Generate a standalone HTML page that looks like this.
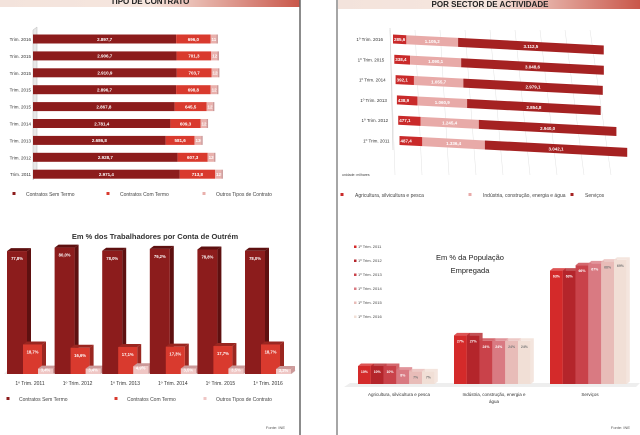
<!DOCTYPE html>
<html><head><meta charset="utf-8"><style>
body{margin:0;background:#fff;width:640px;height:435px;overflow:hidden;font-family:"Liberation Sans",sans-serif}
svg{display:block}
</style></head><body>
<svg id="s" width="640" height="435" xmlns="http://www.w3.org/2000/svg" font-family="Liberation Sans, sans-serif">
<defs>
<linearGradient id="hdr" x1="0" x2="1"><stop offset="0" stop-color="#f3e3dc"/><stop offset="0.5" stop-color="#f6e6de"/><stop offset="1" stop-color="#c9574a"/></linearGradient>
</defs>
<rect x="0" y="0" width="300" height="7" fill="url(#hdr)"/>
<text x="150" y="4" font-size="8" font-weight="bold" text-anchor="middle" fill="#222">TIPO DE CONTRATO</text>
<rect x="338" y="0" width="302" height="9" fill="url(#hdr)"/>
<text x="490" y="7" font-size="8" font-weight="bold" text-anchor="middle" fill="#222">POR SECTOR DE ACTIVIDADE</text>
<line x1="300" y1="0" x2="300" y2="435" stroke="#666" stroke-width="1.5"/>
<line x1="337" y1="0" x2="337" y2="435" stroke="#888" stroke-width="1.5"/>
<g id="g1"></g><g id="g2"></g><g id="g3"></g><g id="g4"></g>
<text x="285" y="429" font-size="4" text-anchor="end" fill="#555">Fonte: INE</text>
<text x="630" y="429" font-size="4" text-anchor="end" fill="#555">Fonte: INE</text>
</svg>
<script>
const NS="http://www.w3.org/2000/svg";
function mk(p,t,a,txt){const e=document.createElementNS(NS,t);for(const k in a)e.setAttribute(k,a[k]);if(txt!==undefined)e.textContent=txt;p.appendChild(e);return e;}
function fmt(v){return v.toFixed(1).replace('.',',').replace(/^(\d)(\d{3})/,'$1.$2');}

// Chart 1: contract types (stacked horizontal)
const c1Cats=["Trim. 2016","Trim. 2015","Trim. 2015","Trim. 2015","Trim. 2015","Trim. 2014","Trim. 2013","Trim. 2012","Trim. 2011"];
const c1Sem=[2897.7,2906.7,2910.9,2896.7,2867.8,2781.4,2686.8,2928.7,2971.4];
const c1Com=[696.0,701.3,703.7,698.8,645.5,609.3,581.6,607.3,713.8];
const c1Out=[119.1,126.5,128.5,127.5,127.5,122.7,136.2,126.1,129.1];
const c1Legend=["Contratos  Sem Termo","Contratos  Com Termo","Outros Tipos de Contrato"];
// Chart 2: sectors
const c2Cats=["1º Trim. 2016","1º Trim. 2015","1º Trim. 2014","1º Trim. 2013","1º Trim. 2012","1º Trim. 2011"];
const c2Agr=[285.6,338.4,392.1,438.9,477.1,487.4];
const c2Ind=[1105.2,1090.1,1055.7,1060.9,1245.4,1336.4];
const c2Ser=[3112.5,3048.6,2979.1,2854.8,2940.0,3042.1];
const c2Legend=["Agricultura, silvicultura e pesca","Indústria, construção, energia e água","Serviços"];
// Chart 3: % contracts
const c3Cats=["1º Trim. 2011","1º Trim. 2012","1º Trim. 2013","1º Trim. 2014","1º Trim. 2015","1º Trim. 2016"];
const c3Sem=[77.8,80.0,78.0,79.2,78.8,78.0];
const c3Com=[18.7,16.6,17.1,17.3,17.7,18.7];
const c3Out=[3.4,3.4,4.9,3.5,3.5,3.2];
// Chart 4: % employed population
const c4Cats=["Agricultura, silvicultura e pesca","Indústria, construção, energia e água","Serviços"];
const c4Series=["1º Trim. 2011","1º Trim. 2012","1º Trim. 2013","1º Trim. 2014","1º Trim. 2015","1º Trim. 2016"];
const c4Vals=[[10,27,63],[10,27,63],[10,24,66],[8,24,67],[7,24,68],[7,24,69]];

// ---- chart 1
(function(){
const g=document.getElementById('g1');
const x0=33, sx=v=>x0+v*0.0494, y0=39, dy=16.9, h=9;
mk(g,'path',{d:'M33 30 L37 27 L37 176 L33 180 Z',fill:'#e8e8e8',stroke:'#bbb','stroke-width':0.5});
const cols=['#8c1c1c','#d93a2e','#e9b0ac'];
c1Cats.forEach((c,i)=>{
 const y=y0+i*dy;
 let t=mk(g,'text',{x:31,y:y+2,'font-size':4.5,'text-anchor':'end',fill:'#333'},c);
 
 const vals=[c1Sem[i],c1Com[i],c1Out[i]];let acc=0;
 vals.forEach((v,k)=>{
  const a=sx(acc),b=sx(acc+v);acc+=v;
  const r=mk(g,'rect',{x:a,y:y-h/2,width:b-a,height:h,fill:cols[k]});
  
  const lt=mk(g,'text',{x:k==2?a+1:(a+b)/2,y:y+1.8,'font-size':4.5,'font-weight':'bold','text-anchor':k==2?'start':'middle',fill:'#fff'},fmt(v));
  
 });
 mk(g,'rect',{x:sx(acc),y:y-h/2,width:1.5,height:h,fill:'#c99'});
});
[14,108,204].forEach((x,k)=>{
 const m=mk(g,'rect',{x:x-1.5,y:192,width:3,height:3,fill:cols[k]});
 
 const t=mk(g,'text',{x:x+12,y:196,'font-size':5,fill:'#444'},c1Legend[k]);
 
});
})();

// ---- chart 2
(function(){
const g=document.getElementById('g2');
const x0=393, sx=v=>v*0.0468, y0=39, dy=20.3, h=9, slope=0.052;
for(let i=0;i<9;i++){mk(g,'line',{x1:390+i*25,y1:30,x2:395+i*27,y2:175,stroke:'#e2e2e2','stroke-width':0.5});}
mk(g,'path',{d:'M390 28 L393 150',stroke:'#ccc','stroke-width':0.6,fill:'none'});
const cols=['#c92a2a','#e8aaa8','#a52222'];
c2Cats.forEach((c,i)=>{
 const y=y0+i*dy, xs=x0+i*1.3;
 const t=mk(g,'text',{x:xs-10,y:y+2,'font-size':4.5,'text-anchor':'end',fill:'#333'},c);
 
 const vals=[c2Agr[i],c2Ind[i],c2Ser[i]];let acc=0;
 vals.forEach((v,k)=>{
  const a=xs+sx(acc),b=xs+sx(acc+v);acc+=v;
  const ya=y+(a-xs)*slope, yb=y+(b-xs)*slope;
  const p=mk(g,'path',{d:`M${a} ${ya-h/2} L${b} ${yb-h/2} L${b} ${yb+h/2} L${a} ${ya+h/2} Z`,fill:cols[k]});
  
  const mx=k==0?a+1:(a+b)/2, my=y+(mx-xs)*slope;
  const lt=mk(g,'text',{x:mx,y:my+1.8,'font-size':4.5,'font-weight':'bold','text-anchor':k==0?'start':'middle',fill:'#fff'},fmt(v));
  
 });
});
mk(g,'text',{x:342,y:176,'font-size':3.5,fill:'#444'},'unidade: milhares');
[342,470,572].forEach((x,k)=>{
 const m=mk(g,'rect',{x:x-1.5,y:193,width:3,height:3,fill:cols[k]});
 
 const t=mk(g,'text',{x:x+13,y:197,'font-size':5,fill:'#444'},c2Legend[k]);
 
});
})();

// ---- chart 3
(function(){
const g=document.getElementById('g3');
const base=374, sy=v=>v*1.58;
const t0=mk(g,'text',{x:155,y:239,'font-size':7.5,'font-weight':'bold','text-anchor':'middle',fill:'#333'},'Em % dos Trabalhadores por Conta de Outrém');

mk(g,'path',{d:'M4 374 L292 374 L296 370 L8 370 Z',fill:'#eee'});
const cols=['#8c1c1c','#d93a2e','#efc6c4'],side=['#5e1010','#9a2620','#c99'];
const ws=[20,19,15],off=[0,16,31];
c3Cats.forEach((c,i)=>{
 const gx=7+i*47.6;
 [c3Sem[i],c3Com[i],c3Out[i]].forEach((v,k)=>{
  const x=gx+off[k],w=ws[k],hh=sy(v),top=base-hh;
  mk(g,'path',{d:`M${x+w} ${top} L${x+w+4} ${top-3} L${x+w+4} ${base-3} L${x+w} ${base} Z`,fill:side[k]});
  mk(g,'path',{d:`M${x} ${top} L${x+4} ${top-3} L${x+w+4} ${top-3} L${x+w} ${top} Z`,fill:side[k]});
  const r=mk(g,'rect',{x:x,y:top,width:w,height:hh,fill:cols[k]});
  
  const lt=mk(g,'text',{x:x+w/2,y:top+(k==2?3:9),'font-size':4.2,'font-weight':'bold','text-anchor':'middle',fill:'#fff'},v.toFixed(1).replace('.',',')+'%');
  
 });
 const t=mk(g,'text',{x:gx+23,y:385,'font-size':5,'text-anchor':'middle',fill:'#333'},c);
 
});
[8,116,205].forEach((x,k)=>{
 const m=mk(g,'rect',{x:x-1.5,y:397,width:3,height:3,fill:cols[k]});
 
 const t=mk(g,'text',{x:x+11,y:401,'font-size':5,fill:'#444'},c1Legend[k]);
 
});
})();

// ---- chart 4
(function(){
const g=document.getElementById('g4');
const base=384, sy=v=>v*1.8;
const cols=['#d42a2a','#b4252b','#c9424a','#d97a82','#e8bcb8','#f1dfd6'];
const t1=mk(g,'text',{x:470,y:260,'font-size':7.5,'text-anchor':'middle',fill:'#222'},'Em % da População');

mk(g,'text',{x:470,y:273,'font-size':7.5,'text-anchor':'middle',fill:'#222'},'Empregada');
mk(g,'path',{d:'M344 387 L636 387 L640 383 L350 383 Z',fill:'#eee'});
c4Series.forEach((s,j)=>{
 const y=248+j*14;
 const m=mk(g,'rect',{x:354,y:y-2.5,width:2.5,height:2.5,fill:cols[j]});
 
 const t=mk(g,'text',{x:358,y:y,'font-size':4,fill:'#444'},s);
 
});
const gx=[358,454,550];
c4Cats.forEach((c,i)=>{
 c4Series.forEach((s,j)=>{
  const v=c4Vals[j][i],x=gx[i]+j*12.8,w=12.8,hh=sy(v),top=base-hh;
  mk(g,'path',{d:`M${x} ${top} L${x+3} ${top-2.5} L${x+w+3} ${top-2.5} L${x+w+3} ${base-2.5} L${x+w} ${base} L${x+w} ${top} Z`,fill:cols[j],opacity:0.8});
  const r=mk(g,'rect',{x:x,y:top,width:w,height:hh,fill:cols[j]});
  
  const lt=mk(g,'text',{x:x+w/2,y:top+7,'font-size':3.5,'font-weight':'bold','text-anchor':'middle',fill:j>3?'#777':'#fff'},v+'%');
  
 });
});
const lbl=[[399,['Agricultura, silvicultura e pesca']],[494,['Indústria, construção, energia e','água']],[590,['Serviços']]];
lbl.forEach(([x,ls])=>ls.forEach((l,k)=>{
 const t=mk(g,'text',{x:x,y:396+k*7,'font-size':4.5,'text-anchor':'middle',fill:'#333'},l);
 
}));
})();
</script>
</body></html>
